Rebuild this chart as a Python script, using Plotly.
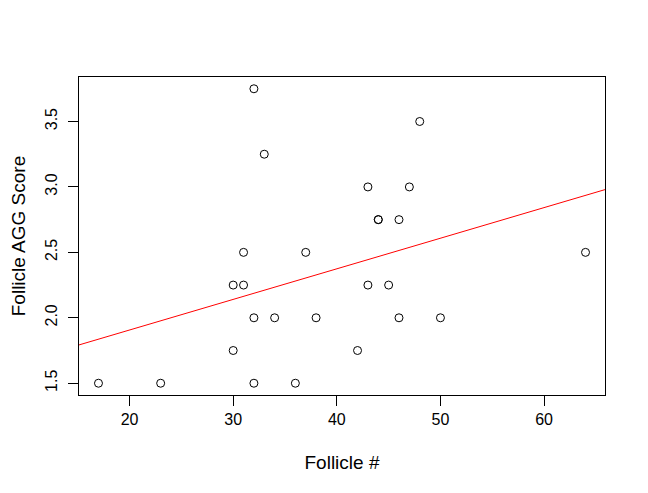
import numpy as np
import plotly.graph_objects as go

# Follicle count vs. AGG score
follicles = [17, 23, 30, 30, 31, 31, 32, 32, 32, 33, 34, 36, 37,
             38, 42, 43, 43, 44, 44, 45, 46, 46, 47, 48, 50, 64]
agg_score = [1.5, 1.5, 1.75, 2.25, 2.5, 2.25, 3.75, 2.0, 1.5, 3.25, 2.0, 1.5, 2.5,
             2.0, 1.75, 3.0, 2.25, 2.75, 2.75, 2.25, 2.75, 2.0, 3.0, 3.5, 2.0, 2.5]

x_ticks = [20, 30, 40, 50, 60]
y_ticks = [1.5, 2.0, 2.5, 3.0, 3.5]
y_tick_text = ['1.5', '2.0', '2.5', '3.0', '3.5']


def padded_range(vals, frac=0.04):
    lo, hi = min(vals), max(vals)
    pad = (hi - lo) * frac
    return [lo - pad, hi + pad]


x_range = padded_range(follicles)
y_range = padded_range(agg_score)

# least squares fit, drawn across the whole plot region like abline()
slope, intercept = np.polyfit(follicles, agg_score, 1)
fit_x = np.array(x_range)
fit_y = intercept + slope * fit_x

fig = go.Figure()

fig.add_trace(go.Scatter(
    x=follicles,
    y=agg_score,
    mode='markers',
    marker=dict(symbol='circle-open', size=8, color='black',
                line=dict(color='black', width=1)),
    showlegend=False
))

fig.add_trace(go.Scatter(
    x=fit_x,
    y=fit_y,
    mode='lines',
    line=dict(color='red', width=1),
    showlegend=False
))

font = dict(family='Liberation Sans, Arial, sans-serif', size=16, color='black')

# page body has an 8px margin, so the figure is made 8px smaller
fig.update_layout(
    width=640,
    height=485,
    margin=dict(l=71, r=43, t=69, b=98),
    paper_bgcolor='white',
    plot_bgcolor='white',
    font=font,
    showlegend=False,
    xaxis=dict(
        range=x_range,
        tickvals=x_ticks,
        ticks='outside',
        ticklen=10,
        tickcolor='black',
        showline=True,
        mirror=True,
        linecolor='black',
        linewidth=1,
        showgrid=False,
        zeroline=False,
        automargin=False,
        title=dict(text='Follicle #', standoff=28),
        tickfont=font,
    ),
    yaxis=dict(
        range=y_range,
        tickvals=y_ticks,
        ticktext=y_tick_text,
        tickangle=-90,
        ticks='outside',
        ticklen=10,
        tickcolor='black',
        ticklabelstandoff=5,
        showline=True,
        mirror=True,
        linecolor='black',
        linewidth=1,
        showgrid=False,
        zeroline=False,
        automargin=False,
        title=dict(text='Follicle AGG Score', standoff=28),
        tickfont=font,
    ),
)

fig.write_html('out.html')
